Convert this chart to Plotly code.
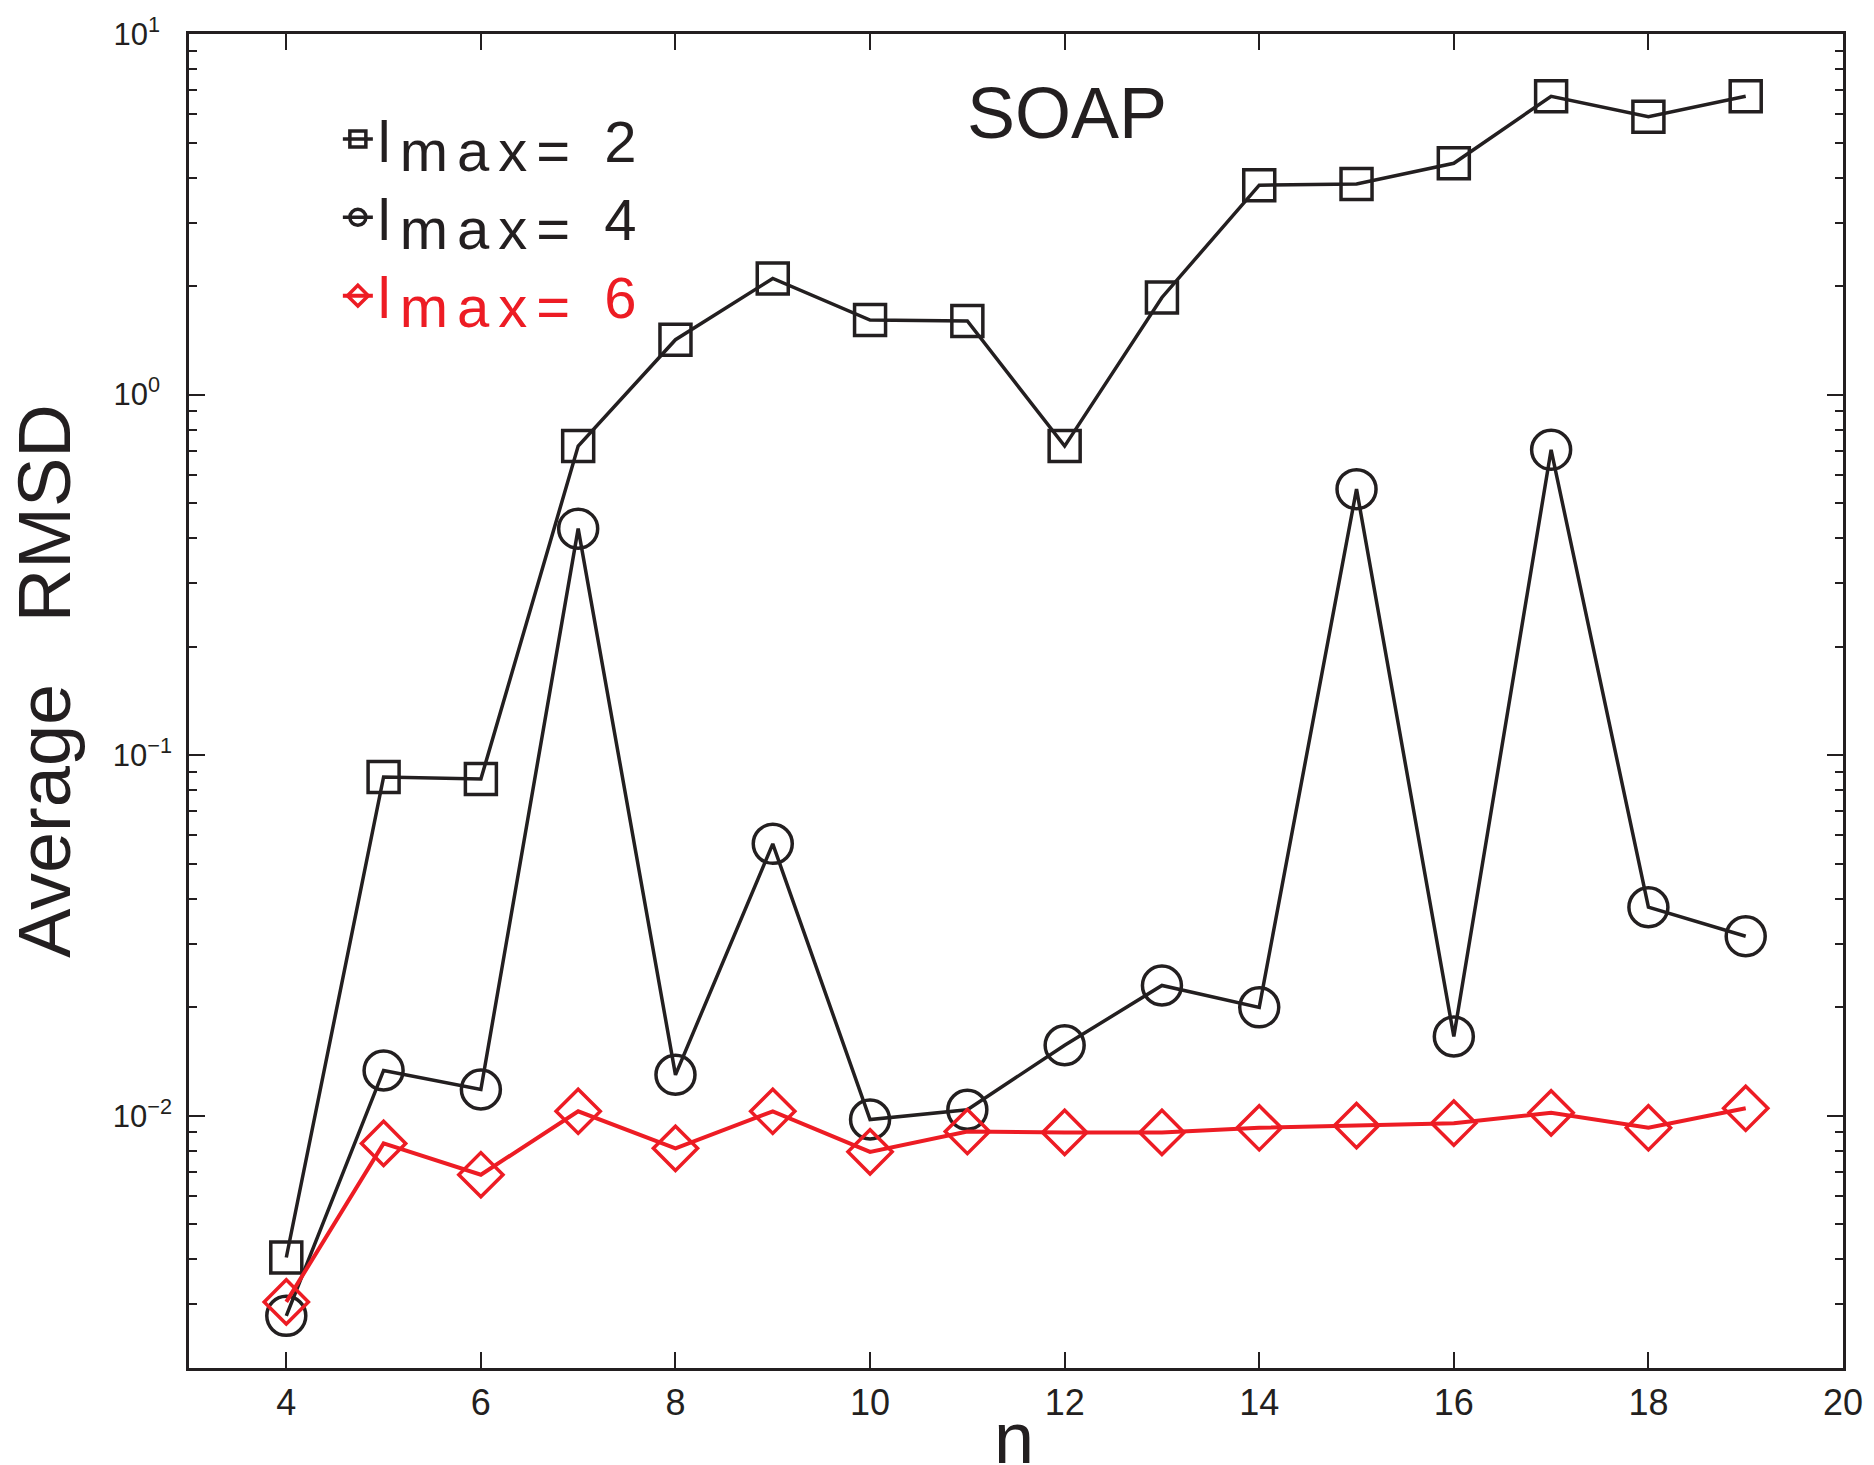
import plotly.graph_objects as go

n = [4, 5, 6, 7, 8, 9, 10, 11, 12, 13, 14, 15, 16, 17, 18, 19]
lmax2 = [0.00405, 0.0871, 0.0859, 0.72, 1.42, 2.10, 1.61, 1.60, 0.72, 1.86, 3.81, 3.84, 4.38, 6.72, 5.90, 6.72]
lmax4 = [0.00279, 0.01337, 0.01184, 0.425, 0.0130, 0.0568, 0.00977, 0.0104, 0.0157, 0.0230, 0.0200, 0.547, 0.0166, 0.703, 0.0379, 0.0315]
lmax6 = [0.00305, 0.00839, 0.00687, 0.0103, 0.00813, 0.0103, 0.00795, 0.00905, 0.0090, 0.0090, 0.00927, 0.0094, 0.00955, 0.0102, 0.00927, 0.0105]

ytick_vals = [0.01, 0.1, 1, 10]
ytick_text = ["10<sup>−2</sup>", "10<sup>−1</sup>", "10<sup>0&nbsp;&nbsp;</sup>", "10<sup>1&nbsp;&nbsp;</sup>"]
xtick_vals = [4, 6, 8, 10, 12, 14, 16, 18, 20]

BLACK = "#231f20"
RED = "#ed1c24"
FONT = "Liberation Sans, Arial, Helvetica, sans-serif"


def legend_name(num, color=None):
    style = "letter-spacing:9px"
    if color:
        style += ";color:" + color
    return ("<span style='" + style + "'>l<span style='baseline-shift:-0.16em'>max=</span> "
            + num + "</span>")


fig = go.Figure()
fig.add_trace(go.Scatter(
    x=n, y=lmax2, mode="lines+markers", name=legend_name("2"),
    line=dict(color=BLACK, width=3.5),
    marker=dict(symbol="square-open", size=31, color=BLACK, line=dict(width=3.5, color=BLACK)),
))
fig.add_trace(go.Scatter(
    x=n, y=lmax4, mode="lines+markers", name=legend_name("4"),
    line=dict(color=BLACK, width=3.5),
    marker=dict(symbol="circle-open", size=39, color=BLACK, line=dict(width=3.5, color=BLACK)),
))
fig.add_trace(go.Scatter(
    x=n, y=lmax6, mode="lines+markers", name=legend_name("6", RED),
    line=dict(color=RED, width=4),
    marker=dict(symbol="diamond-open", size=34, color=RED, line=dict(width=3.5, color=RED)),
))

axis_common = dict(
    showgrid=False, zeroline=False, showline=True, linecolor=BLACK, linewidth=2.5,
    mirror="ticks", ticks="inside", tickcolor=BLACK, tickwidth=1.5, ticklen=16,
)

fig.update_xaxes(range=[3, 20], tickmode="array", tickvals=xtick_vals,
                 tickfont=dict(family=FONT, size=36, color=BLACK), ticklabelstandoff=1,
                 **axis_common)
fig.update_yaxes(
    type="log", range=[-2.699, 1], tickmode="array", tickvals=ytick_vals, ticktext=ytick_text,
    tickfont=dict(family=FONT, size=31, color=BLACK), ticklabelstandoff=8,
    minor=dict(ticks="inside", ticklen=8, dtick="D1", tickcolor=BLACK, tickwidth=1.5, showgrid=False),
    **axis_common,
)

fig.update_layout(
    width=1874, height=1465,
    margin=dict(l=189, r=31, t=34, b=97),
    plot_bgcolor="white", paper_bgcolor="white",
    font=dict(family=FONT, color=BLACK),
    showlegend=True,
    legend=dict(
        x=0.090, y=0.9545, xanchor="left", yanchor="top",
        bgcolor="rgba(0,0,0,0)", borderwidth=0,
        font=dict(family=FONT, size=58, color=BLACK),
        itemsizing="trace", tracegroupgap=0,
    ),
    annotations=[
        dict(text="SOAP", x=0.5308, y=0.9408, xref="paper", yref="paper",
             showarrow=False, xanchor="center", yanchor="middle",
             font=dict(family=FONT, size=72, color=BLACK)),
        dict(text="Average&nbsp;&nbsp;&nbsp;RMSD", x=-0.087, y=0.515, xref="paper", yref="paper",
             showarrow=False, xanchor="center", yanchor="middle", textangle=-90,
             font=dict(family=FONT, size=74, color=BLACK)),
        dict(text="n", x=0.4985, y=-0.021, xref="paper", yref="paper",
             showarrow=False, xanchor="center", yanchor="top",
             font=dict(family=FONT, size=72, color=BLACK)),
    ],
)

fig.write_html("out.html", config={"displayModeBar": False},
               post_script="document.body.style.margin='0';")
